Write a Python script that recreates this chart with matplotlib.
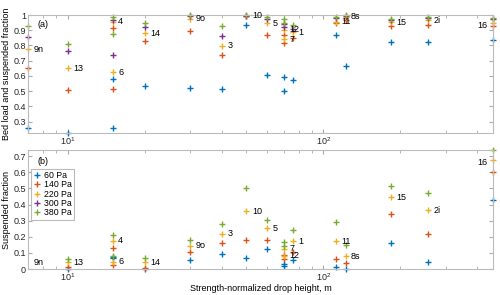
import numpy as np
import matplotlib
matplotlib.use('Agg')
import matplotlib.pyplot as plt
from matplotlib.ticker import LogLocator, FixedLocator, NullFormatter

plt.rcParams['font.family'] = ['Liberation Sans', 'DejaVu Sans']
plt.rcParams['mathtext.default'] = 'regular'
plt.rcParams['font.size'] = 6.5

# sites and strength-normalized drop height
sites = ['9n', '13', '4', '6', '14', '9o', '3', '10', '5', '12', '7', '1', '11', '8s', '15', '2i', '16']
drop_h = [7, 10, 15, 15, 20, 30, 40, 50, 60, 70, 70, 76, 112, 122, 184, 256, 460]

pressures = ['60 Pa', '140 Pa', '220 Pa', '300 Pa', '380 Pa']
colors = ['#0072BD', '#D95319', '#EDB120', '#7E2F8E', '#77AC30']

# (a) bed load + suspended fraction
tot_60 = [0.26, 0.228, 0.58, 0.26, 0.537, 0.522, 0.511, 0.937, 0.604, 0.596, 0.498, 0.572, 0.867, 0.665, 0.82, 0.824, 0.833]
tot_140 = [0.65, 0.51, 0.915, 0.515, 0.83, 0.893, 0.739, 0.993, 0.872, 0.87, 0.815, 0.85, 0.945, 0.967, 0.928, 0.937, 0.928]
tot_220 = [0.776, 0.65, 0.957, 0.624, 0.88, 0.976, 0.798, 0.995, 0.946, 0.905, 0.84, 0.887, 0.955, 0.99, 0.954, 0.967, 0.95]
tot_300 = [0.859, 0.765, 0.97, 0.737, 0.922, 0.995, 0.863, 0.997, 0.976, 0.94, 0.922, 0.91, 0.98, 0.995, 0.965, 0.98, 0.975]
tot_380 = [0.928, 0.813, 0.99, 0.876, 0.946, 1.0, 0.928, 1.0, 0.989, 0.972, 0.95, 0.937, 0.989, 1.0, 0.972, 0.989, 0.983]

# (b) suspended fraction
nan = np.nan
sus_60 = [nan, 0.0, 0.07, 0.073, 0.0, 0.055, 0.096, 0.069, 0.124, 0.02, 0.029, 0.057, 0.01, 0.002, 0.159, 0.043, 0.429]
sus_140 = [nan, 0.012, 0.129, 0.022, 0.008, 0.106, 0.163, 0.182, 0.182, 0.06, 0.088, 0.104, 0.063, 0.035, 0.339, 0.216, 0.604]
sus_220 = [nan, 0.041, 0.176, 0.045, 0.041, 0.145, 0.22, 0.359, 0.253, 0.082, 0.127, 0.171, 0.173, 0.08, 0.445, 0.363, 0.676]
sus_300 = [nan] * 17
sus_380 = [nan, 0.061, 0.214, 0.078, 0.071, 0.182, 0.278, 0.504, 0.304, 0.143, 0.165, 0.243, 0.29, 0.147, 0.514, 0.471, 0.737]

tot = [tot_60, tot_140, tot_220, tot_300, tot_380]
sus = [sus_60, sus_140, sus_220, sus_300, sus_380]

fig = plt.figure(figsize=(5, 2.95), dpi=100)
ax1 = fig.add_axes([0.056, 0.549, 0.93, 0.40])
ax2 = fig.add_axes([0.056, 0.088, 0.93, 0.403])


def style(ax):
    ax.set_xscale('log')
    ax.set_xlim(7, 460)
    ax.xaxis.set_major_locator(FixedLocator([10, 100]))
    ax.set_xticklabels(['$10^{1}$', '$10^{2}$'])
    ax.xaxis.set_minor_locator(LogLocator(base=10, subs=np.arange(2, 10)))
    ax.xaxis.set_minor_formatter(NullFormatter())
    ax.tick_params(which='both', direction='in', top=True, right=True,
                   color='#aaaaaa', labelcolor='#262626', pad=1.5)
    ax.tick_params(which='major', length=3)
    ax.tick_params(which='minor', length=2)
    for s in ax.spines.values():
        s.set_color('#bbbbbb')
        s.set_linewidth(0.8)


for vals, c, p in zip(tot, colors, pressures):
    ax1.plot(drop_h, vals, '+', color=c, ms=4, mew=1, clip_on=False, label=p)
for vals, c, p in zip(sus, colors, pressures):
    ax2.plot(drop_h, vals, '+', color=c, ms=4, mew=1, clip_on=False, label=p)

# site labels next to the 220 Pa point
for i, s in enumerate(sites):
    last = i == len(sites) - 1
    off = (-4, -2) if last else (4, 0)
    ha = 'right' if last else 'left'
    ax1.annotate(s, (drop_h[i], tot_220[i]), xytext=off, textcoords='offset points',
                 ha=ha, va='center', fontsize=6.5, annotation_clip=False)
    y2 = sus_220[i] if not np.isnan(sus_220[i]) else 0.04
    ax2.annotate(s, (drop_h[i], max(y2, 0.04)), xytext=off, textcoords='offset points',
                 ha=ha, va='center', fontsize=6.5, annotation_clip=False)

style(ax1)
ax1.set_ylim(0.225, 1.0)
ax1.set_yticks(np.arange(0.3, 1.01, 0.1))
ax1.set_yticklabels(['0.3', '0.4', '0.5', '0.6', '0.7', '0.8', '0.9', '1'])
ax1.set_ylabel('Bed load and suspended fraction', labelpad=2)
ax1.text(0.02, 0.9, '(a)', transform=ax1.transAxes)

style(ax2)
ax2.set_ylim(0, 0.737)
ax2.set_yticks(np.arange(0, 0.71, 0.1))
ax2.set_yticklabels(['0', '0.1', '0.2', '0.3', '0.4', '0.5', '0.6', '0.7'])
ax2.set_ylabel('Suspended fraction', labelpad=2)
ax2.set_xlabel('Strength-normalized drop height, m', labelpad=0.5)
ax2.text(0.02, 0.88, '(b)', transform=ax2.transAxes)
leg = ax2.legend(loc='upper left', bbox_to_anchor=(0.003, 0.86), fontsize=6.3,
                 handlelength=0.9, handletextpad=0.3, borderpad=0.25, labelspacing=0.05,
                 borderaxespad=0.2, fancybox=False, framealpha=1)
leg.get_frame().set_edgecolor('#bbbbbb')
leg.get_frame().set_linewidth(0.8)

fig.savefig('out.png', dpi=100)
